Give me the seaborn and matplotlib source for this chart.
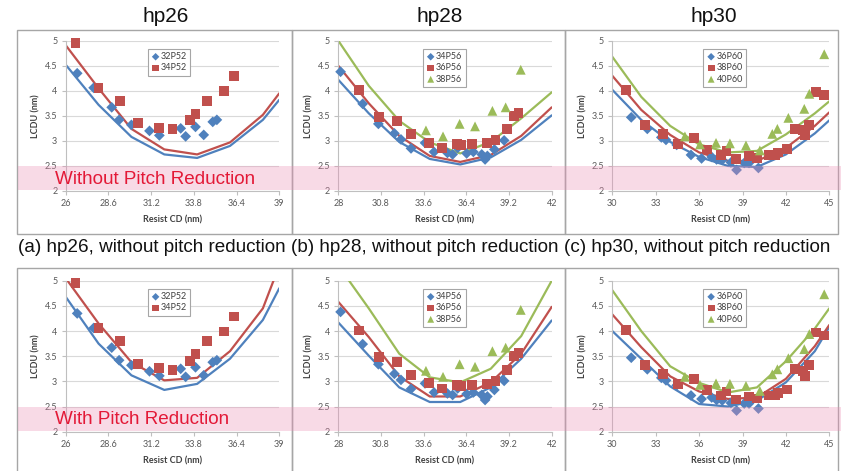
import numpy as np
import pandas as pd
import matplotlib
matplotlib.use("Agg")
import matplotlib.pyplot as plt
import seaborn as sns
from matplotlib.patches import Rectangle
from matplotlib.transforms import blended_transform_factory

sns.set_theme(style="white")
plt.rcParams['font.family'] = ['Lato', 'DejaVu Sans']

# ---------------- data ----------------
titles = ["hp26", "hp28", "hp30"]
captions = ["(a) hp26, without pitch reduction", "(b) hp28, without pitch reduction",
            "(c) hp30, without pitch reduction"]
band_labels = ["Without Pitch Reduction", "With Pitch Reduction"]

# hp26
hp26_names = ["32P52", "34P52"]
hp26_32_x = [26.7, 27.7, 28.8, 29.25, 30.0, 31.1, 31.7, 33.0, 33.3, 33.9, 34.4, 34.95, 35.2]
hp26_32_y = [4.35, 4.06, 3.67, 3.42, 3.32, 3.20, 3.11, 3.25, 3.09, 3.28, 3.12, 3.38, 3.42]
hp26_34_x = [26.6, 28.0, 29.3, 30.4, 31.7, 32.5, 33.55, 33.9, 34.6, 35.65, 36.25]
hp26_34_y = [4.96, 4.06, 3.80, 3.35, 3.26, 3.23, 3.41, 3.54, 3.80, 3.99, 4.29]
hp26_sim_x = [26, 28, 30, 32, 34, 36, 38, 39]
hp26_top_32 = [4.52, 3.72, 3.08, 2.73, 2.66, 2.90, 3.42, 3.82]
hp26_top_34 = [4.91, 4.05, 3.24, 2.83, 2.73, 2.97, 3.52, 3.95]
hp26_bot_32 = [4.68, 3.75, 3.12, 2.83, 2.95, 3.45, 4.22, 4.85]
hp26_bot_34 = [5.05, 4.15, 3.38, 3.02, 3.07, 3.60, 4.45, 5.30]
hp26_ticks = [26, 28.6, 31.2, 33.8, 36.4, 39]
hp26_ticklabels = ["26", "28.6", "31.2", "33.8", "36.4", "39"]

# hp28
hp28_names = ["34P56", "36P56", "38P56"]
hp28_34_x = [28.15, 29.6, 30.63, 31.68, 32.11, 32.77, 33.69, 34.28, 35.16, 35.5, 35.83, 36.42,
             36.86, 37.41, 37.63, 37.78, 38.24, 38.88]
hp28_34_y = [4.38, 3.74, 3.34, 3.15, 3.03, 2.85, 2.96, 2.78, 2.76, 2.73, 2.86, 2.75,
             2.78, 2.73, 2.63, 2.70, 2.83, 3.01]
hp28_36_x = [29.36, 30.69, 31.83, 32.77, 33.95, 34.83, 35.77, 36.03, 36.75, 37.74, 38.31, 39.05,
             39.51, 39.82]
hp28_36_y = [4.01, 3.48, 3.39, 3.13, 2.96, 2.86, 2.93, 2.91, 2.93, 2.95, 3.01, 3.23, 3.50, 3.56]
hp28_38_x = [33.75, 34.87, 35.96, 36.97, 38.11, 38.98, 39.97]
hp28_38_y = [3.21, 3.09, 3.34, 3.29, 3.60, 3.67, 4.42]
hp28_sim_x = [28, 30, 32, 34, 36, 38, 40, 42]
hp28_top_34 = [4.22, 3.55, 2.98, 2.64, 2.53, 2.67, 3.02, 3.51]
hp28_top_36 = [4.50, 3.75, 3.10, 2.70, 2.58, 2.72, 3.10, 3.67]
hp28_top_38 = [5.00, 4.10, 3.40, 2.97, 2.75, 2.98, 3.45, 3.97]
hp28_bot_34 = [4.17, 3.51, 2.88, 2.59, 2.59, 2.88, 3.45, 4.21]
hp28_bot_36 = [4.58, 3.88, 3.10, 2.70, 2.70, 2.98, 3.55, 4.48]
hp28_bot_38 = [5.30, 4.45, 3.55, 3.08, 2.98, 3.25, 3.90, 5.00]
hp28_ticks = [28, 30.8, 33.6, 36.4, 39.2, 42]
hp28_ticklabels = ["28", "30.8", "33.6", "36.4", "39.2", "42"]

# hp30
hp30_names = ["36P60", "38P60", "40P60"]
hp30_36_x = [31.31, 32.42, 33.39, 33.71, 34.45, 35.44, 36.17, 36.87, 37.21, 37.6, 38.2, 38.59,
             39.12, 39.45, 40.1]
hp30_36_y = [3.47, 3.24, 3.07, 3.02, 2.92, 2.72, 2.65, 2.68, 2.63, 2.62, 2.57, 2.42,
             2.56, 2.56, 2.46]
hp30_38_x = [30.94, 32.26, 33.48, 34.52, 35.67, 36.52, 37.49, 37.9, 38.55, 39.47, 39.98, 40.85,
             41.24, 41.47, 42.05, 42.65, 43.2, 43.32, 43.62, 44.06, 44.65]
hp30_38_y = [4.02, 3.32, 3.14, 2.94, 3.05, 2.83, 2.72, 2.80, 2.64, 2.70, 2.66, 2.72,
             2.72, 2.77, 2.84, 3.24, 3.21, 3.11, 3.32, 3.97, 3.91]
hp30_40_x = [35.02, 36.06, 37.17, 38.13, 39.24, 40.2, 41.06, 41.41, 42.17, 43.27, 43.62, 44.65]
hp30_40_y = [3.09, 2.93, 2.96, 2.95, 2.91, 2.81, 3.14, 3.24, 3.46, 3.64, 3.94, 4.73]
hp30_sim_x = [30, 32, 34, 36, 38, 40, 42, 44, 45]
hp30_top_36 = [4.02, 3.42, 2.98, 2.68, 2.50, 2.48, 2.73, 3.15, 3.41]
hp30_top_38 = [4.30, 3.62, 3.12, 2.77, 2.60, 2.60, 2.86, 3.30, 3.57]
hp30_top_40 = [4.68, 3.88, 3.30, 2.93, 2.77, 2.80, 3.13, 3.55, 3.79]
hp30_bot_36 = [4.00, 3.45, 2.90, 2.55, 2.50, 2.62, 2.98, 3.60, 4.08]
hp30_bot_38 = [4.33, 3.68, 3.10, 2.80, 2.65, 2.68, 3.05, 3.70, 4.12]
hp30_bot_40 = [4.81, 4.00, 3.30, 2.97, 2.78, 2.88, 3.40, 4.05, 4.45]
hp30_ticks = [30, 33, 36, 39, 42, 45]
hp30_ticklabels = ["30", "33", "36", "39", "42", "45"]

y_ticks = [2, 2.5, 3, 3.5, 4, 4.5, 5]
y_ticklabels = ["2", "2.5", "3", "3.5", "4", "4.5", "5"]

# ---------------- styling ----------------
W, H = 841, 471
BLUE, RED, GREEN = "#4F81BD", "#C0504D", "#9BBB59"
markers = ["D", "s", "^"]
msizes = [30, 50, 50]
colors = [BLUE, RED, GREEN]

fig = plt.figure(figsize=(W / 100, H / 100), dpi=100)
fig.patch.set_facecolor("white")


def rect(l, t, r, b):
    return [l / W, 1 - b / H, (r - l) / W, (b - t) / H]


col_px = [(65.7, 279.3), (338.3, 551.7), (612.3, 829.3)]
row_px = [(40.7, 191.0), (280.7, 431.7)]

panels = [
    dict(names=hp26_names, pts=[(hp26_32_x, hp26_32_y), (hp26_34_x, hp26_34_y)],
         simx=hp26_sim_x, top=[hp26_top_32, hp26_top_34], bot=[hp26_bot_32, hp26_bot_34],
         xlim=(26, 39), ticks=hp26_ticks, tl=hp26_ticklabels, leg_x=0.385),
    dict(names=hp28_names, pts=[(hp28_34_x, hp28_34_y), (hp28_36_x, hp28_36_y), (hp28_38_x, hp28_38_y)],
         simx=hp28_sim_x, top=[hp28_top_34, hp28_top_36, hp28_top_38],
         bot=[hp28_bot_34, hp28_bot_36, hp28_bot_38],
         xlim=(28, 42), ticks=hp28_ticks, tl=hp28_ticklabels, leg_x=0.397),
    dict(names=hp30_names, pts=[(hp30_36_x, hp30_36_y), (hp30_38_x, hp30_38_y), (hp30_40_x, hp30_40_y)],
         simx=hp30_sim_x, top=[hp30_top_36, hp30_top_38, hp30_top_40],
         bot=[hp30_bot_36, hp30_bot_38, hp30_bot_40],
         xlim=(30, 45), ticks=hp30_ticks, tl=hp30_ticklabels, leg_x=0.42),
]

axes_rows = []
for r, (t, b) in enumerate(row_px):
    row_axes = []
    for c, (l, rr) in enumerate(col_px):
        p = panels[c]
        ax = fig.add_axes(rect(l, t, rr, b))
        ax.set_facecolor("white")
        sims = p["top"] if r == 0 else p["bot"]
        for i, sy in enumerate(sims):
            df_l = pd.DataFrame({"x": p["simx"], "y": sy})
            sns.lineplot(data=df_l, x="x", y="y", ax=ax, color=colors[i], lw=1.6,
                         legend=False, zorder=2, sort=False)
        for i, (px_, py_) in enumerate(p["pts"]):
            df_p = pd.DataFrame({"x": px_, "y": py_})
            sns.scatterplot(data=df_p, x="x", y="y", ax=ax, color=colors[i], marker=markers[i],
                            s=msizes[i], edgecolor="none", linewidth=0, label=p["names"][i],
                            zorder=3, clip_on=False)
        ax.set_xlim(*p["xlim"])
        ax.set_ylim(2, 5)
        ax.set_xticks(p["ticks"])
        ax.set_xticklabels(p["tl"])
        ax.set_yticks(y_ticks)
        ax.set_yticklabels(y_ticklabels)
        ax.grid(axis="y", color="#d9d9d9", lw=0.8)
        ax.grid(axis="x", visible=False)
        ax.set_axisbelow(True)
        for s in ["top", "right"]:
            ax.spines[s].set_visible(False)
        for s in ["left", "bottom"]:
            ax.spines[s].set_color("#bfbfbf")
            ax.spines[s].set_linewidth(0.8)
        ax.tick_params(axis="both", length=3, width=0.8, color="#bfbfbf", labelsize=6.5,
                       labelcolor="#595959", direction="out", pad=3, bottom=True, left=True)
        ax.set_xlabel("Resist CD (nm)", fontsize=6.5, fontweight="bold", color="#404040", labelpad=5)
        ax.set_ylabel("LCDU (nm)", fontsize=6.5, fontweight="bold", color="#404040", labelpad=3)
        leg = ax.legend(loc="upper left", bbox_to_anchor=(p["leg_x"], 0.945), fontsize=6.5,
                        frameon=True, fancybox=False, edgecolor="#a6a6a6", framealpha=1,
                        borderpad=0.35, handletextpad=0.1, labelspacing=0.25, handlelength=1.0,
                        borderaxespad=0, markerscale=0.7)
        leg.get_frame().set_linewidth(0.8)
        for txt in leg.get_texts():
            txt.set_color("#404040")
        row_axes.append(ax)
    axes_rows.append(row_axes)

# panel boxes
box_cols = [(17, 292), (292, 565), (565, 838)]
box_rows = [(29.5, 234), (268, 475)]
for (t, b) in box_rows:
    for (l, rr) in box_cols:
        fig.add_artist(Rectangle((l / W, 1 - b / H), (rr - l) / W, (b - t) / H, fill=False,
                                 edgecolor="#a6a6a6", lw=1.0, transform=fig.transFigure, zorder=0.5))

# pink bands (semi-transparent, drawn over the plots)
for r in range(2):
    tr = blended_transform_factory(fig.transFigure, axes_rows[r][0].transData)
    fig.add_artist(Rectangle((18 / W, 2.02), 1 - 18 / W, 0.47, facecolor="#ec8cb4", alpha=0.32,
                             edgecolor="none", transform=tr, zorder=10))
    fig.text(55 / W, 1 - (179 if r == 0 else 419) / H, band_labels[r], color="#e31937",
             fontsize=13.6, ha="left", va="center", family=["Liberation Sans", "DejaVu Sans"],
             zorder=11)

# titles
for x, tt in zip([166, 440, 714], titles):
    fig.text(x / W, 1 - 17 / H, tt, ha="center", va="center", fontsize=15,
             family=["Liberation Sans", "DejaVu Sans"], color="#111111")

# captions
for x, cap in zip([18, 291, 564], captions):
    fig.text(x / W, 1 - 247.5 / H, cap, ha="left", va="center", fontsize=13.6,
             family=["Liberation Sans", "DejaVu Sans"], color="#111111")

fig.savefig("out.png", dpi=100, facecolor="white")
